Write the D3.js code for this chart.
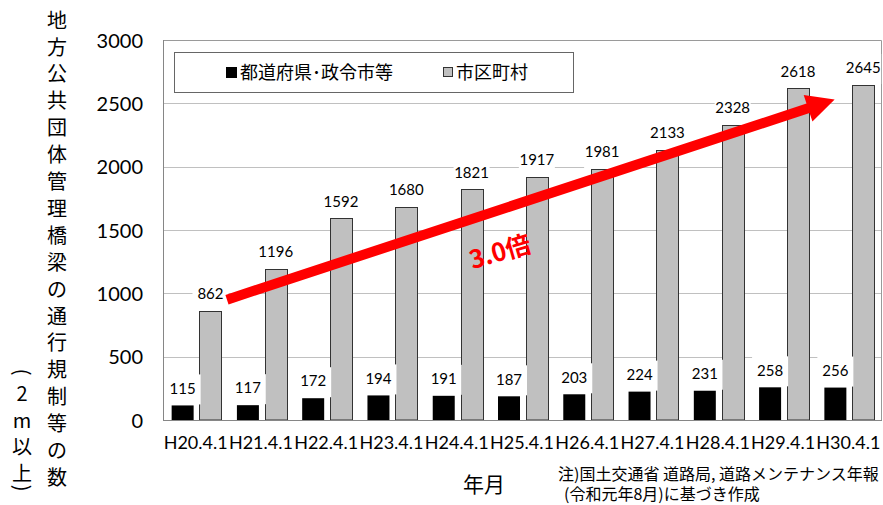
<!DOCTYPE html>
<html><head><meta charset="utf-8">
<script src="https://cdn.jsdelivr.net/npm/d3@7"></script>
<style>
html,body{margin:0;padding:0;background:#fff;}
svg{display:block;}
</style></head>
<body>
<script>
// ---- data ----
const categories = ["H20.4.1","H21.4.1","H22.4.1","H23.4.1","H24.4.1","H25.4.1","H26.4.1","H27.4.1","H28.4.1","H29.4.1","H30.4.1"];
const seriesNames = ["都道府県･政令市等","市区町村"];
const prefValues = [115,117,172,194,191,187,203,224,231,258,256];
const muniValues = [862,1196,1592,1680,1821,1917,1981,2133,2328,2618,2645];
const yTicks = [0,500,1000,1500,2000,2500,3000];
const yTitle = "地方公共団体管理橋梁の通行規制等の数";
const yTitleSub = ["(","2","m","以","上",")"];
const xTitle = "年月";
const arrowLabel = "3.0倍";
const arrowFrom = {cat:"H20.4.1", frac:0.98, value:950};
const arrowTo = {cat:"H30.4.1", frac:0.29, value:2530};
const noteLines = ["注)国土交通省 道路局, 道路メンテナンス年報","(令和元年8月)に基づき作成"];

// ---- layout ----
const W=883,H=505;
const L=163,R=881,T=40,B=420;
const numFont="Lato, 'Liberation Sans', sans-serif";
const jpFont="'Noto Sans CJK JP','Noto Sans',sans-serif";

const svg=d3.select("body").append("svg").attr("width",W).attr("height",H);

const y=d3.scaleLinear().domain([0,3000]).range([B,T]);
const x0=d3.scaleBand().domain(categories).range([L,R]);
const x1=d3.scaleBand().domain(["pref","muni"]).range([0,x0.bandwidth()]).paddingInner(0.21).paddingOuter(0.277).align(0.56);

// gridlines
svg.append("g").selectAll("line").data(yTicks.filter(d=>d>0&&d<3000)).join("line")
  .attr("x1",L).attr("x2",R).attr("y1",d=>Math.round(y(d))+0.5).attr("y2",d=>Math.round(y(d))+0.5)
  .attr("stroke","#c0c0c0").attr("stroke-width",1);
// plot border top/right
svg.append("path").attr("d",`M${L},${Math.round(y(3000))+0.5}H${R+0.5}V${B}`)
  .attr("fill","none").attr("stroke","#9a9a9a");

// y axis labels
const yAxis=d3.axisLeft(y).tickValues(yTicks).tickFormat(d3.format("d")).tickSize(0).tickPadding(20);
const gy=svg.append("g").attr("transform",`translate(${L},0)`).call(yAxis);
gy.select(".domain").remove();
gy.selectAll("text").attr("font-family",numFont).attr("font-size",20).attr("fill","#000").attr("dy","0.35em");

// bars
const rows=categories.map((c,i)=>({cat:c,pref:prefValues[i],muni:muniValues[i]}));
const g=svg.append("g");
g.selectAll("rect.pref").data(rows).join("rect").attr("class","pref")
  .attr("x",d=>x0(d.cat)+x1("pref")).attr("width",x1.bandwidth())
  .attr("y",d=>y(d.pref)).attr("height",d=>B-y(d.pref)).attr("fill","#000");
g.selectAll("rect.muni").data(rows).join("rect").attr("class","muni")
  .attr("x",d=>Math.round(x0(d.cat)+x1("muni"))+0.5).attr("width",x1.bandwidth())
  .attr("y",d=>Math.round(y(d.muni))+0.5).attr("height",d=>B-Math.round(y(d.muni))-0.5)
  .attr("fill","#c0c0c0").attr("stroke","#333").attr("stroke-width",1);

// axes lines
svg.append("line").attr("x1",L+0.5).attr("x2",L+0.5).attr("y1",T).attr("y2",B).attr("stroke","#868686");
svg.append("line").attr("x1",L).attr("x2",R+1).attr("y1",B+0.5).attr("y2",B+0.5).attr("stroke","#868686");

// data labels
const labels=[];
rows.forEach(d=>{
  labels.push({x:x0(d.cat)+x1("pref")+x1.bandwidth()/2, y:y(d.pref)-17, t:String(d.pref)});
  labels.push({x:x0(d.cat)+x1("muni")+x1.bandwidth()/2, y:y(d.muni)-17, t:String(d.muni)});
});
const lg=svg.append("g");
lg.selectAll("rect").data(labels).join("rect")
  .attr("x",d=>d.x-18).attr("width",36).attr("y",d=>d.y-14).attr("height",30).attr("fill","#fff");
lg.selectAll("text").data(labels).join("text")
  .attr("x",d=>d.x).attr("y",d=>d.y).attr("text-anchor","middle").attr("dy","0.35em")
  .attr("font-family",numFont).attr("font-size",15).attr("fill","#000").text(d=>d.t);

// x labels
const xAxis=d3.axisBottom(x0).tickSize(0).tickPadding(16);
const gx=svg.append("g").attr("transform",`translate(0,${B})`).call(xAxis);
gx.select(".domain").remove();
gx.selectAll("text").attr("font-family",numFont).attr("font-size",18).attr("fill","#000");

// legend
const leg=svg.append("g");
leg.append("rect").attr("x",174.5).attr("y",52.5).attr("width",399).attr("height",40).attr("fill","#fff").attr("stroke","#666");
leg.append("rect").attr("x",226).attr("y",67).attr("width",11).attr("height",11).attr("fill","#000");
leg.append("text").attr("x",240).attr("y",72.5).attr("dy","0.35em").attr("font-family",jpFont).attr("font-size",18).text(seriesNames[0]);
leg.append("rect").attr("x",443.5).attr("y",67.5).attr("width",9).attr("height",9).attr("fill","#c0c0c0").attr("stroke","#333");
leg.append("text").attr("x",456).attr("y",72.5).attr("dy","0.35em").attr("font-family",jpFont).attr("font-size",18).text(seriesNames[1]);

// arrow
const ax1=x0(arrowFrom.cat)+x0.bandwidth()*arrowFrom.frac, ay1=y(arrowFrom.value);
const ax2=x0(arrowTo.cat)+x0.bandwidth()*arrowTo.frac, ay2=y(arrowTo.value);
const len=Math.hypot(ax2-ax1,ay2-ay1), ux=(ax2-ax1)/len, uy=(ay2-ay1)/len, nx=-uy, ny=ux;
const headL=28, headW=14, shaftW=5;
const bx=ax2-ux*headL, by=ay2-uy*headL;
const pts=[[ax1+nx*shaftW,ay1+ny*shaftW],[bx+nx*shaftW,by+ny*shaftW],[bx+nx*headW,by+ny*headW],[ax2,ay2],
  [bx-nx*headW,by-ny*headW],[bx-nx*shaftW,by-ny*shaftW],[ax1-nx*shaftW,ay1-ny*shaftW]];
svg.append("polygon").attr("points",pts.map(p=>p.join(",")).join(" ")).attr("fill","#ff0000");
const ang=Math.atan2(ay2-ay1,ax2-ax1)*180/Math.PI;
svg.append("text").attr("transform",`translate(500,252) rotate(${ang+2})`)
  .attr("text-anchor","middle").attr("dy","0.35em").attr("font-family",jpFont).attr("font-weight","bold")
  .attr("font-size",25).attr("fill","#ff0000").text(arrowLabel);

// y title (vertical)
const ty=svg.append("g");
ty.selectAll("text").data(Array.from(yTitle)).join("text")
  .attr("x",57).attr("y",(d,i)=>20+i*26.9).attr("text-anchor","middle").attr("dy","0.38em")
  .attr("font-family",jpFont).attr("font-size",20).text(d=>d);
const subY=[372,394,421,447,474,488];
const ty2=svg.append("g");
ty2.selectAll("text").data(yTitleSub).join("text")
  .attr("transform",(d,i)=>`translate(22,${subY[i]})`+((d==="("||d===")")?" rotate(90)":""))
  .attr("text-anchor","middle").attr("dy","0.35em")
  .attr("font-family",jpFont).attr("font-size",20).text(d=>d);

// x title
svg.append("text").attr("x",484).attr("y",485).attr("text-anchor","middle").attr("dy","0.35em")
  .attr("font-family",jpFont).attr("font-size",21).text(xTitle);

// note
svg.append("g").selectAll("text").data(noteLines).join("text")
  .attr("x",(d,i)=>i===0?558:564).attr("y",(d,i)=>474+i*20).attr("dy","0.35em")
  .attr("font-family",jpFont).attr("font-size",16).text(d=>d);
</script>
</body></html>
